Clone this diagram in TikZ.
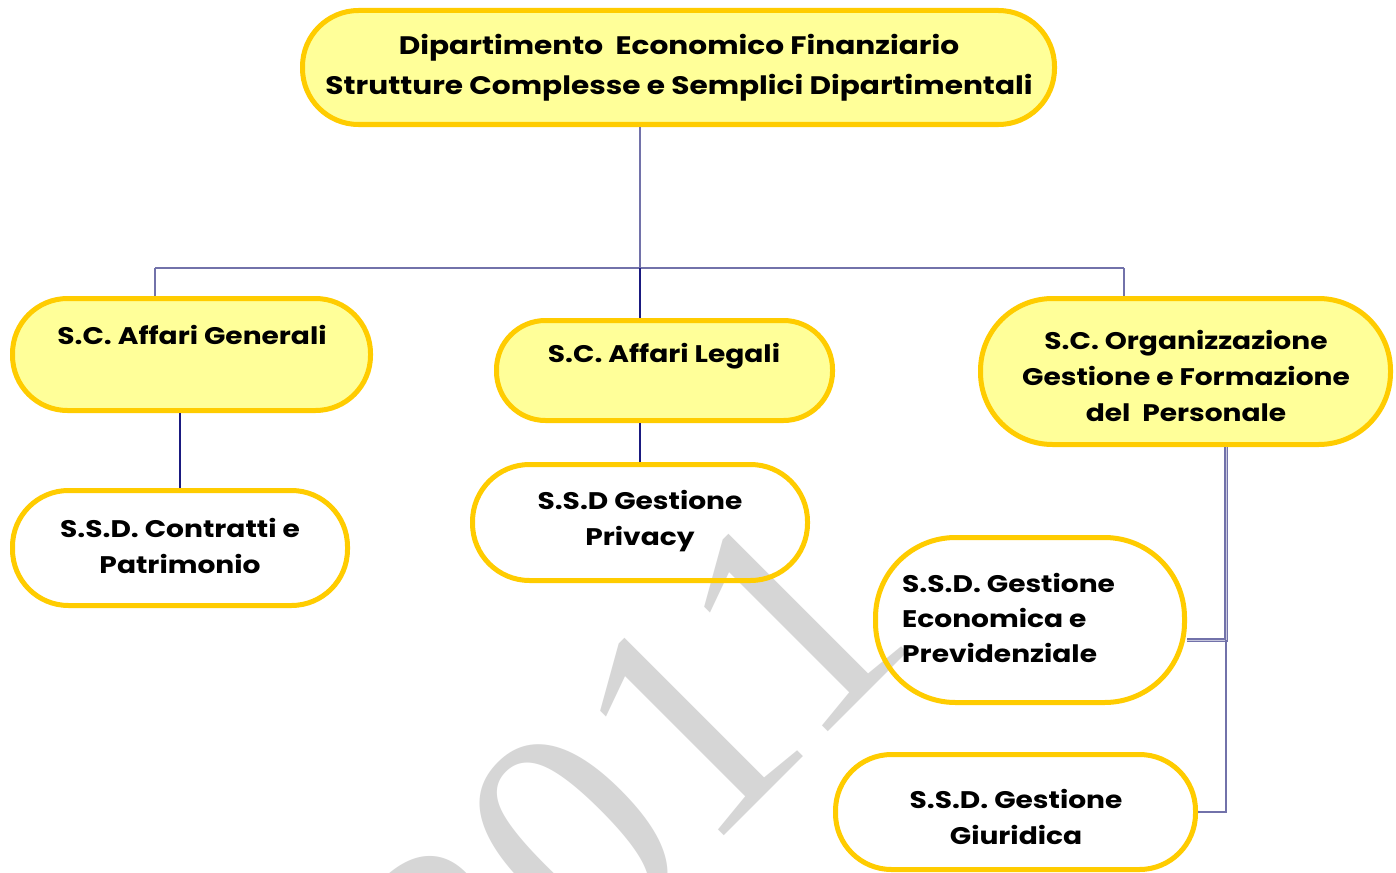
\documentclass[tikz,border=0pt]{standalone}
\usepackage{fontspec}
\setmainfont{Poppins}[FakeStretch=1.17]
\newfontfamily\wmfont{Liberation Serif}
\usetikzlibrary{calc}
\definecolor{bord}{HTML}{FFCC00}
\definecolor{yfill}{HTML}{FFFF99}
\definecolor{bus}{HTML}{7272AA}
\definecolor{navy}{HTML}{1A1A80}
\definecolor{wm}{HTML}{D6D6D6}
\begin{document}
\begin{tikzpicture}[x=1pt,y=-1pt,
  box/.style={draw=bord, line width=5pt, rectangle, inner sep=0pt},
  ybox/.style={box, fill=yfill},
  wbox/.style={box},
  lbl/.style={font=\fontsize{24}{36}\selectfont\bfseries, align=center, inner sep=0pt},
  conn/.style={draw=bus, line width=1.8pt},
  nconn/.style={draw=navy, line width=1.8pt},
  wmark/.style={font=\fontsize{318}{318}\selectfont\wmfont, text=wm, rotate=45, inner sep=0pt, anchor=base}
]
\fill[white] (0,0) rectangle (1396,872);
\useasboundingbox (0,0) rectangle (1396,872);

% watermark
\node[wmark] (wm) at (700,860) {2011};

% boxes
\node[ybox, minimum width=752pt, minimum height=114pt, rounded corners=56pt] (top) at (678.5,67.5) {};
\node[ybox, minimum width=358pt, minimum height=112pt, rounded corners=55pt] (gen) at (191.5,354.5) {};
\node[ybox, minimum width=336pt, minimum height=100pt, rounded corners=49pt] (leg) at (664.5,370.5) {};
\node[ybox, minimum width=410pt, minimum height=146pt, rounded corners=72pt] (org) at (1185.5,371.5) {};
\node[wbox, minimum width=335pt, minimum height=115pt, rounded corners=56pt] (con) at (180,548) {};
\node[wbox, minimum width=335pt, minimum height=116pt, rounded corners=57pt] (pri) at (640,522.5) {};
\node[wbox, minimum width=309pt, minimum height=165pt, rounded corners=80pt] (eco) at (1030,620) {};
\node[wbox, minimum width=360pt, minimum height=115pt, rounded corners=56pt] (giu) at (1015.5,812) {};

% connectors
\coordinate (bl) at (155,268);
\coordinate (br) at (1124,268);
\coordinate (ec) at (1226,640);
\draw[conn] (top.south -| pri) -- (pri |- bl);
\draw[conn] (bl) -- (br);
\draw[conn] (bl) -- (bl |- gen.north);
\draw[conn] (br) -- (br |- org.north);
\draw[nconn] (pri |- bl) -- (pri |- leg.north);
\draw[nconn] (con.north) -- (con.north |- gen.south);
\draw[nconn] (pri.north) -- (pri.north |- leg.south);
\draw[draw=bus, line width=1.2pt, double=bus!40, double distance=1pt] (org.south -| ec) -- (ec) -- (ec -| eco.east);
\draw[conn] (ec) |- (giu.east);

% labels
\node[lbl, font=\fontsize{25.3}{40}\selectfont\bfseries] (top-t) at (679,68) {Dipartimento~ Economico Finanziario\\Strutture Complesse e Semplici Dipartimentali};
\node[lbl] (gen-t) at (192,335) {S.C. Affari Generali};
\node[lbl] (leg-t) at (664,356) {S.C. Affari Legali};
\node[lbl] (org-t) at (1186,376) {S.C. Organizzazione\\Gestione e Formazione\\del~ Personale};
\node[lbl] (con-t) at (180,546) {S.S.D. Contratti e\\Patrimonio};
\node[lbl] (pri-t) at (640,521.5) {S.S.D Gestione\\Privacy};
\node[lbl, align=left, anchor=west, font=\fontsize{24}{35}\selectfont\bfseries] (eco-t) at (902,618) {S.S.D. Gestione\\Economica e\\Previdenziale};
\node[lbl] (giu-t) at (1016,816.5) {S.S.D. Gestione\\Giuridica};
\end{tikzpicture}
\end{document}
